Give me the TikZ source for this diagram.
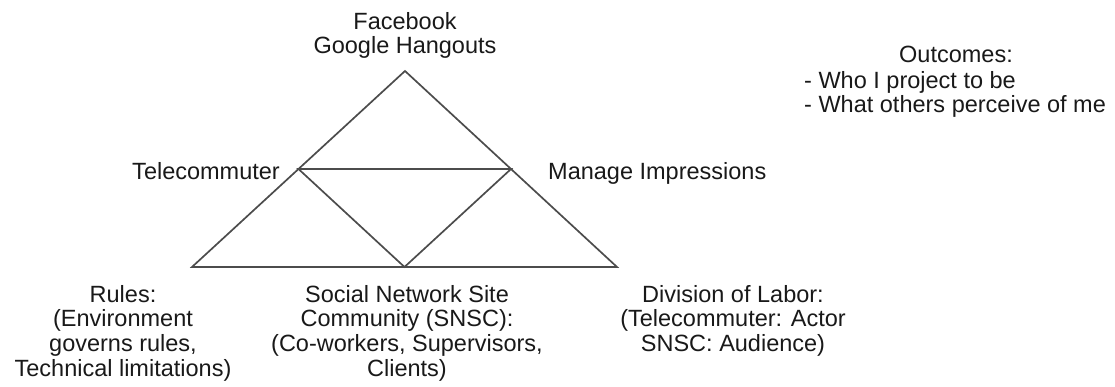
\documentclass[tikz,border=0pt]{standalone}
\usepackage{fontspec}
\setmainfont{Liberation Sans}
\usetikzlibrary{calc}
\begin{document}
\begin{tikzpicture}[x=1pt,y=-1pt,
  lbl/.style={inner sep=0pt, font=\fontsize{23.5}{24.7}\selectfont, text=black!90},
  edge/.style={draw=black!70, line width=1.7pt, line join=miter}]
\useasboundingbox (0,0) rectangle (1115,387);
% vertices
\coordinate (A) at (405,71);
\coordinate (L) at (192,267);
\coordinate (R) at (617,267);
\coordinate (ML) at ($(A)!0.5!(L)$);
\coordinate (MR) at ($(A)!0.5!(R)$);
\coordinate (MB) at ($(L)!0.5!(R)$);
\draw[edge] (A) -- (L) -- (R) -- cycle;
\draw[edge] (ML) -- (MR) -- (MB) -- cycle;
% labels
\node[lbl, align=center, anchor=north] (tools) at (405,12) {Facebook\\Google Hangouts};
\node[lbl, anchor=base east] (subject) at (280,180) {Telecommuter};
\node[lbl, anchor=base west] (object) at (548,180) {Manage Impressions};
\node[lbl, align=center, anchor=north] (rules) at (123,285) {Rules:\\(Environment\\governs rules,\\Technical limitations)};
\node[lbl, align=center, anchor=north] (community) at (407,285) {Social Network Site\\Community (SNSC):\\(Co-workers, Supervisors,\\Clients)};
\node[lbl, align=center, anchor=north] (division) at (733,285) {Division of Labor:\\(Telecommuter: Actor\\SNSC: Audience)};
\node[lbl, anchor=base] (outhead) at (956,63) {Outcomes:};
\node[lbl, align=left, anchor=north west] (outlist) at (804,71) {- Who I project to be\\- What others perceive of me};
\end{tikzpicture}
\end{document}
